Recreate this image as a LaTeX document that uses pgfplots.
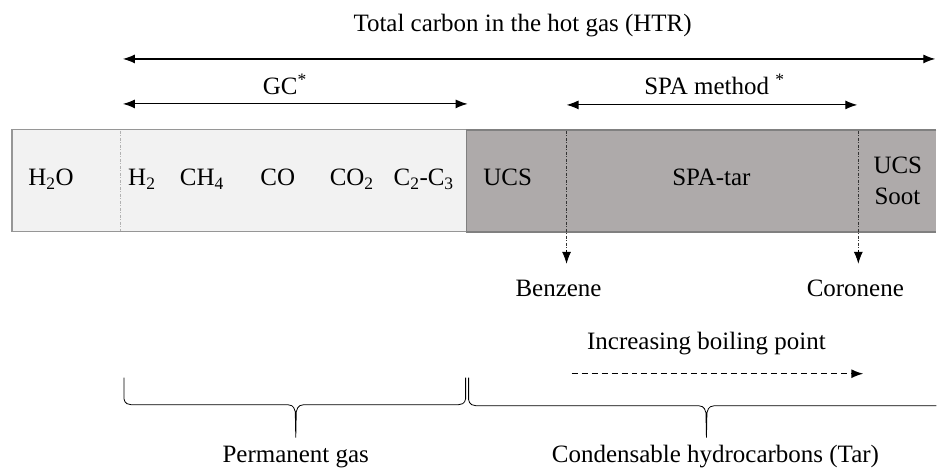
\documentclass[border=0pt]{standalone}
\usepackage{pgfplots}
\pgfplotsset{compat=1.18}
\usepackage{fontspec}
\setmainfont{Liberation Serif}
\usetikzlibrary{arrows.meta}
\definecolor{lightfill}{RGB}{242,242,242}
\definecolor{darkfill}{RGB}{174,170,170}
\definecolor{boxline}{RGB}{150,150,150}
\newcommand{\fs}{\fontsize{25bp}{30bp}\selectfont}
\tikzset{tip/.style={-{Latex[length=12bp,width=9bp]}},
  tips/.style={{Latex[length=12bp,width=9bp]}-{Latex[length=12bp,width=9bp]}},
  lab/.style={font=\fs, anchor=base, inner sep=0pt}}

\begin{document}
\begin{tikzpicture}
\begin{axis}[
  scale only axis, width=937bp, height=472bp,
  xmin=0, xmax=937, ymin=0, ymax=472, y dir=reverse,
  hide axis, clip=false,
]
% page
\addplot[fill=white, draw=none] coordinates {(0,0)(937,0)(937,472)(0,472)} -- cycle;

% boxes
\addplot[fill=lightfill, draw=boxline, line width=1.2bp] coordinates {(12,130)(467,130)(467,232)(12,232)} -- cycle;
\addplot[fill=darkfill, draw=none] coordinates {(467,130)(937,130)(937,232)(467,232)} -- cycle;
\addplot[draw=black!50, line width=1.5bp] coordinates {(937,130)(467,130)(467,232)(937,232)};

% separators
\addplot[draw=black!30, line width=0.8bp, dash pattern=on 3bp off 1.5bp on 1bp off 1.5bp] coordinates {(120,131)(120,231)};
\addplot[draw=black!80, line width=0.8bp, dash pattern=on 3bp off 1.5bp on 1bp off 1.5bp] coordinates {(567,131)(567,252)};
\addplot[draw=black!80, line width=0.8bp, dash pattern=on 3bp off 1.5bp on 1bp off 1.5bp] coordinates {(859,131)(859,252)};
\addplot[black, line width=0.8bp, tip] coordinates {(567,250)(567,264)};
\addplot[black, line width=0.8bp, tip] coordinates {(859,250)(859,264)};

% range arrows
\addplot[black, line width=1.1bp, tips] coordinates {(123,59)(936,59)};
\addplot[black, line width=1.1bp, tips] coordinates {(123,104)(468,104)};
\addplot[black, line width=1.1bp, tips] coordinates {(567,105)(858,105)};
\addplot[black, line width=1.4bp, dash pattern=on 6bp off 4bp, tip] coordinates {(572,374)(864,374)};

% braces
\addplot[black, line width=0.8bp] coordinates {
  (124,378)(124,399)(125,402)(127,404)(131,405)(288,405)(292,406)(294,408)(295.5,412)(296,438)
  (296.5,412)(298,408)(300,406)(304,405)(459,405)(463,404)(465,402)(466,399)(466,378)};
\addplot[black, line width=0.8bp] coordinates {
  (469,378)(469,400)(470,403)(472,405)(476,406)(699,406)(703,407)(705,409)(706.5,413)(707,438)
  (707.5,413)(709,409)(711,407)(715,406)(937,406)};

% labels
\node[font=\fs] at (axis cs:523,26) {Total carbon in the hot gas (HTR)};
\node[font=\fs] at (axis cs:285,84) {GC\textsuperscript{*}};
\node[font=\fs] at (axis cs:715,84) {SPA method \textsuperscript{*}};

\node[lab] at (axis cs:51,186) {H\textsubscript{2}O};
\node[lab] at (axis cs:142,186) {H\textsubscript{2}};
\node[lab] at (axis cs:202,186) {CH\textsubscript{4}};
\node[lab] at (axis cs:278,186) {CO};
\node[lab] at (axis cs:352,186) {CO\textsubscript{2}};
\node[lab] at (axis cs:424,186) {C\textsubscript{2}-C\textsubscript{3}};
\node[lab] at (axis cs:508,186) {UCS};
\node[lab] at (axis cs:712,186) {SPA-tar};
\node[font=\fs, anchor=base west, inner sep=0pt] at (axis cs:874,174) {UCS};
\node[font=\fs, anchor=base west, inner sep=0pt] at (axis cs:875,205) {Soot};

\node[font=\fs] at (axis cs:559,289) {Benzene};
\node[font=\fs] at (axis cs:856,289) {Coronene};
\node[font=\fs] at (axis cs:707,344) {Increasing boiling point};

\node[font=\fs] at (axis cs:296,457) {Permanent gas};
\node[font=\fs] at (axis cs:716,457) {Condensable hydrocarbons (Tar)};
\end{axis}
\end{tikzpicture}
\end{document}
